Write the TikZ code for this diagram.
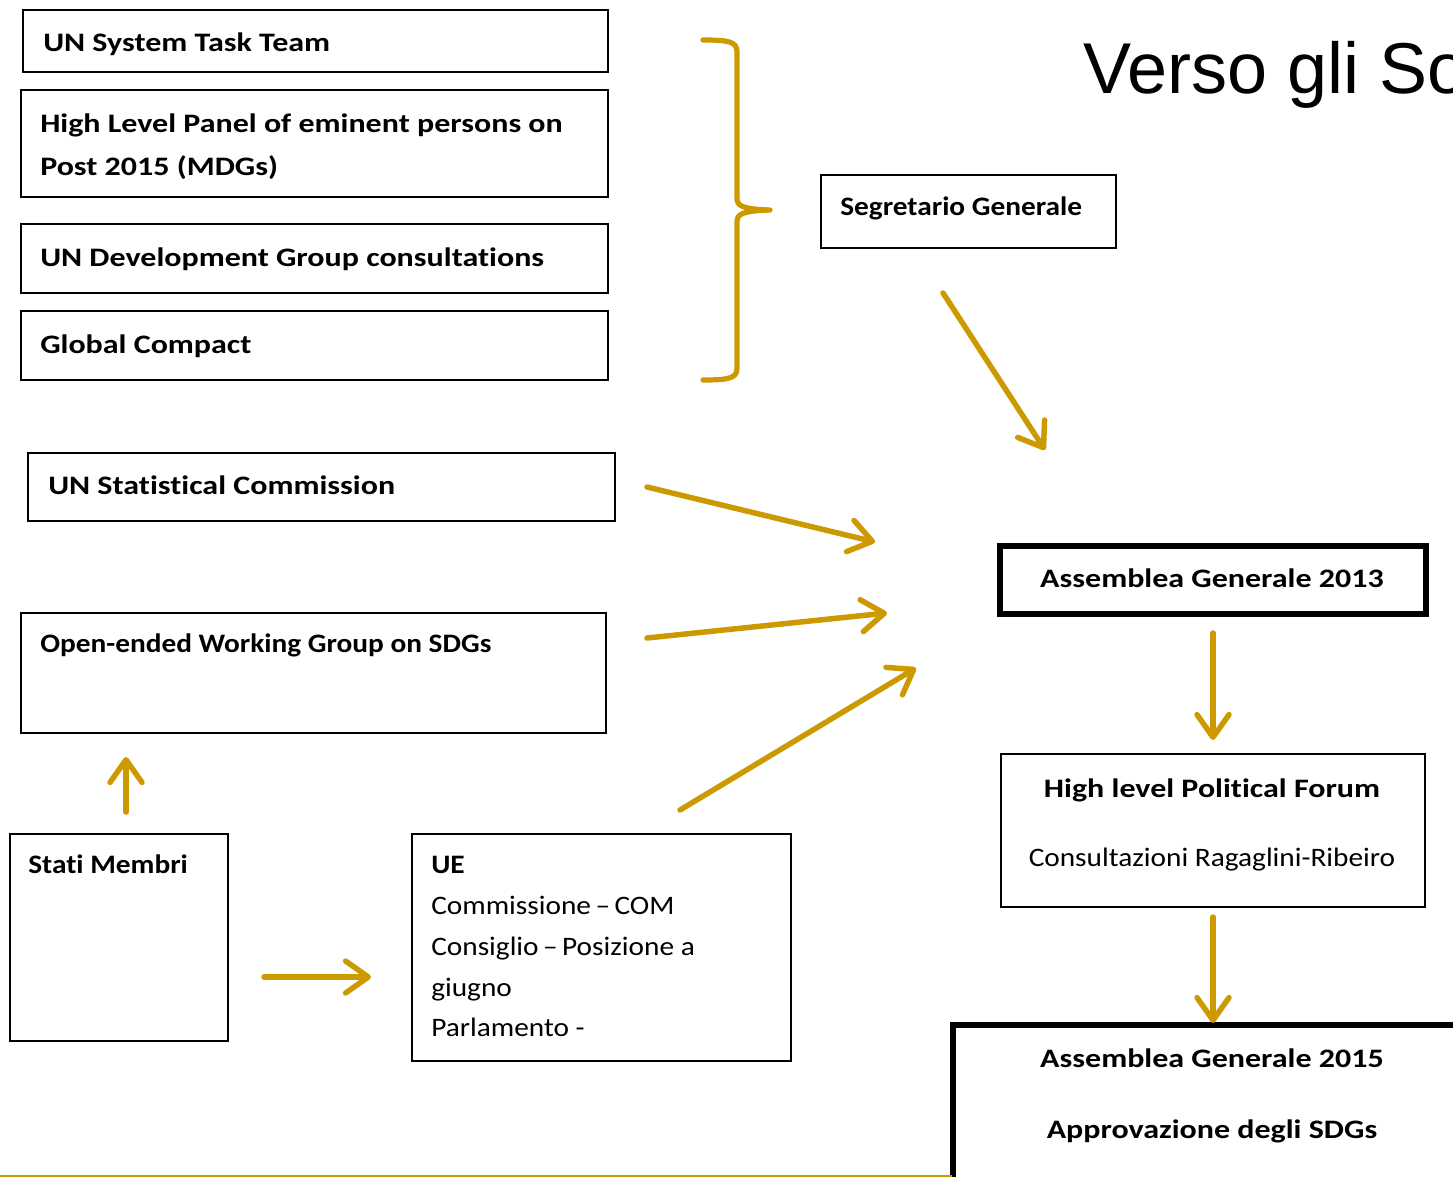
\documentclass[tikz,border=0pt]{standalone}
\usepackage{fontspec}
\setmainfont{Carlito}[Ligatures=NoCommon]
\newfontfamily\wideA{Carlito}[FakeStretch=1.2, Ligatures=NoCommon]
\newfontfamily\wideB{Carlito}[FakeStretch=1.1, Ligatures=NoCommon]
\newfontfamily\titlefont{Liberation Sans}
\usetikzlibrary{arrows.meta,fit}
\definecolor{gold}{RGB}{204,153,0}
\tikzset{
  box/.style={draw=black, line width=1.5pt, inner sep=0pt},
  thickbox/.style={draw=black, line width=3.9pt, inner sep=0pt},
  lbl/.style={font=\wideA\fontsize{20}{24}\selectfont\bfseries, inner sep=0pt, anchor=base west},
  lblb/.style={font=\wideB\fontsize{20}{24}\selectfont\bfseries, inner sep=0pt, anchor=base west},
  lblc/.style={font=\wideA\fontsize{20}{24}\selectfont\bfseries, inner sep=0pt, anchor=base},
  txt/.style={font=\wideB\fontsize{20}{24}\selectfont, inner sep=0pt, anchor=base west},
  txtc/.style={font=\wideB\fontsize{20}{24}\selectfont, inner sep=0pt, anchor=base},
  garrow/.style={draw=gold, line width=4.1pt, line cap=round,
    -{Straight Barb[length=17pt,width=24pt,round]}},
}
\newcommand\pxbox[6]{%
  \path (#2,#3) coordinate (#1-a) (#4,#5) coordinate (#1-b);
  \node[#6, fit=(#1-a)(#1-b)] (#1) {};}
\begin{document}
\begin{tikzpicture}[x=0.75pt,y=-0.75pt]
\clip (0,0) rectangle (1453,1177);
\fill[white] (0,0) rectangle (1453,1177);

% title
\node[font=\titlefont\fontsize{54}{60}\selectfont, inner sep=0pt, anchor=base west] (title) at (1083,94) {Verso gli So};

% left boxes
\pxbox{sys}{23}{10}{608}{72}{box}
\node[lbl] (tsys) at (43,52) {UN System Task Team};
\pxbox{hlp}{21}{90}{608}{197}{box}
\node[lbl] (thlp1) at (40,133) {High Level Panel of eminent persons on};
\node[lbl] (thlp2) at (40,176) {Post 2015 (MDGs)};
\pxbox{undg}{21}{224}{608}{293}{box}
\node[lbl] (tundg) at (40,266) {UN Development Group consultations};
\pxbox{gc}{21}{311}{608}{380}{box}
\node[lbl] (tgc) at (40,353) {Global Compact};
\pxbox{stat}{28}{453}{615}{521}{box}
\node[lbl] (tstat) at (48,494) {UN Statistical Commission};
\pxbox{owg}{21}{613}{606}{733}{box}
\node[lblb] (towg) at (40,652) {Open-ended Working Group on SDGs};
\pxbox{stati}{10}{834}{228}{1041}{box}
\node[lblb] (tstati) at (28,873) {Stati Membri};
\pxbox{ue}{412}{834}{791}{1061}{box}
\node[lblb] (tue) at (431,873) {UE};
\node[txt] (tue1) at (431,914) {Commissione\,–\,COM};
\node[txt] (tue2) at (431,955) {Consiglio\,–\,Posizione a};
\node[txt] (tue3) at (431,996) {giugno};
\node[txt] (tue4) at (431,1036) {Parlamento -};

% right boxes
\pxbox{sg}{821}{175}{1116}{248}{box}
\node[lblb] (tsg) at (840,215) {Segretario Generale};
\pxbox{ag13}{1000}{546}{1426}{614}{thickbox}
\node[lblc] (tag13) at (1212,587) {Assemblea Generale 2013};
\pxbox{hlpf}{1001}{754}{1425}{907}{box}
\node[lblc] (thlpf1) at (1212,797) {High level Political Forum};
\node[txtc] (thlpf2) at (1212,866) {Consultazioni Ragaglini-Ribeiro};
\pxbox{ag15}{953}{1025}{1470}{1200}{thickbox}
\node[lblc] (tag151) at (1212,1067) {Assemblea Generale 2015};
\node[lblc] (tag152) at (1212,1138) {Approvazione degli SDGs};

% brace
\draw[gold, line width=3.9pt, line cap=round, line join=round]
  (703,40) .. controls (730,40) and (737,42) .. (737,52)
  -- (737,198) .. controls (737,206) and (742,209) .. (770,210)
  .. controls (742,211) and (737,214) .. (737,222)
  -- (737,368) .. controls (737,378) and (730,380) .. (703,380);

% arrow endpoints
\coordinate (a1s) at (943,293); \coordinate (a1e) at (1045,450);
\coordinate (a2s) at (647,487); \coordinate (a2e) at (875,542);
\coordinate (a3s) at (647,638); \coordinate (a3e) at (887,613);
\coordinate (a4s) at (680,810); \coordinate (a4e) at (916,668);
\coordinate (a5s) at (126,812); \coordinate (a5e) at (126,757);
\coordinate (a6s) at (264,977); \coordinate (a6e) at (371,977);
\coordinate (a7s) at (1213,633); \coordinate (a7e) at (1213,740);
\coordinate (a8s) at (1213,917); \coordinate (a8e) at (1213,1023);
\draw[garrow] (a1s) -- (a1e);
\draw[garrow] (a2s) -- (a2e);
\draw[garrow] (a3s) -- (a3e);
\draw[garrow] (a4s) -- (a4e);
\draw[garrow] (a5s) -- (a5e);
\draw[garrow] (a6s) -- (a6e);
\draw[garrow] (a7s) -- (a7e);
\draw[garrow] (a8s) -- (a8e);

% bottom line
\coordinate (bl1) at (0,1176); \coordinate (bl2) at (952,1176);
\draw[gold, line width=1.5pt] (bl1) -- (bl2);
\end{tikzpicture}
\end{document}
